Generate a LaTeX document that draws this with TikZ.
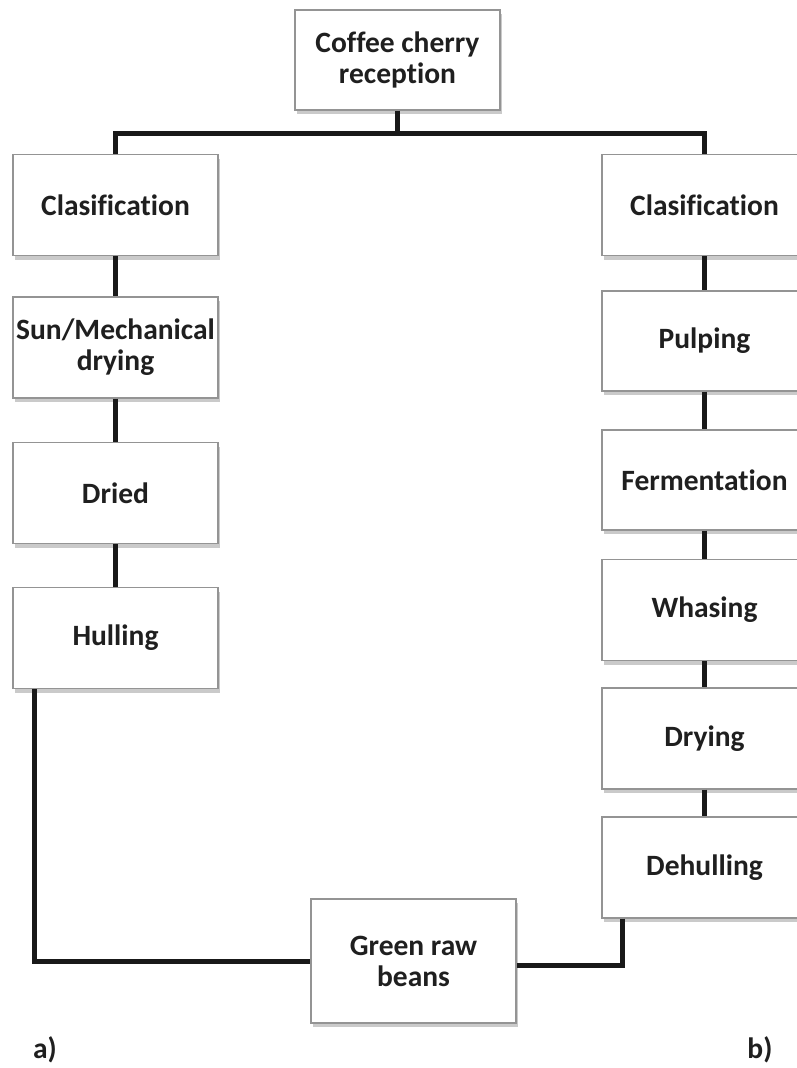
\documentclass[tikz,border=0pt]{standalone}
\usepackage{fontspec}
\setmainfont{Carlito}[Ligatures=NoCommon]
\usetikzlibrary{shadows}
\begin{document}
\begin{tikzpicture}[x=1pt,y=-1pt,
  box/.style={draw=black!42, line width=1.3pt, fill=white, minimum width=205pt,
    minimum height=101pt, inner sep=0pt, align=center,
    font=\fontsize{29.5}{31}\selectfont\bfseries, text=black!88,
    drop shadow={shadow xshift=1.5pt, shadow yshift=-4pt, opacity=0.35, fill=black!60}},
  link/.style={line width=5pt, draw=black!90, line join=miter},
  lab/.style={font=\fontsize{29.5}{31}\selectfont\bfseries, text=black!88}]
\useasboundingbox (0,0) rectangle (797,1068);
% top
\node[box, minimum height=100pt] (top) at (397.5,60) {Coffee cherry\\reception};
% left column
\node[box] (lclas) at (115.5,205) {Clasification};
\node[box] (lsun) at (115.5,347.5) {Sun/Mechanical\\drying};
\node[box] (ldried) at (115.5,493) {Dried};
\node[box] (lhull) at (115.5,638) {Hulling};
% right column
\node[box] (rclas) at (704.5,205) {Clasification};
\node[box, minimum height=100pt] (rpulp) at (704.5,341) {Pulping};
\node[box, minimum height=100pt] (rferm) at (704.5,480) {Fermentation};
\node[box] (rwash) at (704.5,610) {Whasing};
\node[box] (rdry) at (704.5,738.5) {Drying};
\node[box] (rdeh) at (704.5,867.5) {Dehulling};
% bottom
\node[box, minimum height=124pt] (green) at (413.5,961) {Green raw\\beans};
% labels
\node[lab] (la) at (45,1050) {a)};
\node[lab] (lb) at (760,1050) {b)};
% connectors
\coordinate (bar) at (397.5,133);
\draw[link] (top.south) -- (top.south |- bar);
\draw[link] (lclas.north) |- (rclas.north |- bar) -- (rclas.north);
\draw[link] (lclas.south) -- (lsun.north);
\draw[link] (lsun.south) -- (ldried.north);
\draw[link] (ldried.south) -- (lhull.north);
\draw[link] (rclas.south) -- (rpulp.north);
\draw[link] (rpulp.south) -- (rferm.north);
\draw[link] (rferm.south) -- (rwash.north);
\draw[link] (rwash.south) -- (rdry.north);
\draw[link] (rdry.south) -- (rdeh.north);
\draw[link] ([xshift=22pt]lhull.south west) |- (green.west);
\draw[link] ([xshift=21pt]rdeh.south west) |- ([yshift=-4pt]green.east);
\end{tikzpicture}
\end{document}
